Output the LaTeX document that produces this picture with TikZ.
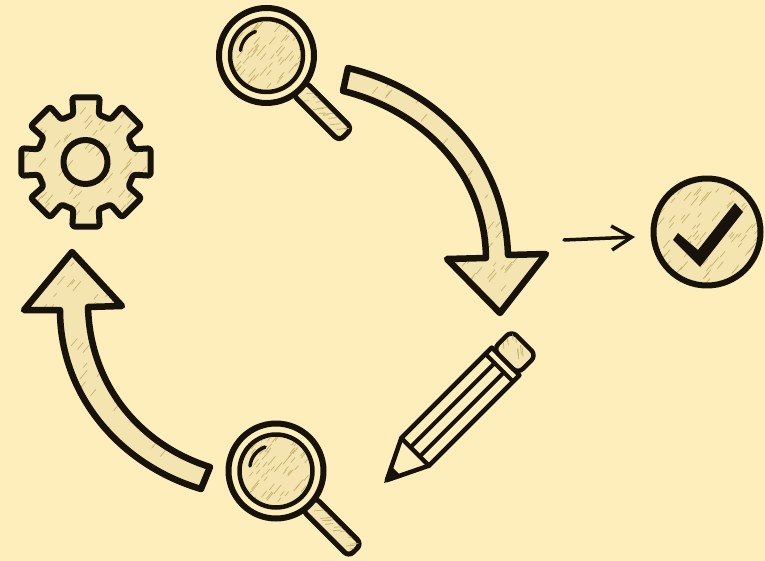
\documentclass[tikz,border=0pt]{standalone}
\usetikzlibrary{arrows.meta}
\definecolor{paper}{HTML}{FDEEBB}
\definecolor{tanfill}{HTML}{F4E4B0}
\definecolor{hatch}{HTML}{BFAB66}
\definecolor{ink}{HTML}{17130A}
\tikzset{
  inkline/.style={draw=ink,line width=#1,line join=round,line cap=round},
  inkline/.default=5pt,
  hatchline/.style={draw=hatch,line width=0.8pt,opacity=0.8},
}
% short slanted pencil strokes scattered over a box: centre x, y, half width, half height, count
\newcommand{\hatchbox}[5]{%
  \foreach \hi in {1,...,#5}{%
    \pgfmathsetmacro{\hx}{#1+(#3)*rand}%
    \pgfmathsetmacro{\hy}{#2+(#4)*rand}%
    \pgfmathsetmacro{\hl}{3+5*rnd}%
    \draw[hatchline] (\hx,\hy) -- ++(\hl,-1.2*\hl);
  }%
}
\newcommand{\gearpath}{(86,162) ++(-15:49)
  \foreach \a in {0,45,...,315}{
    -- ([shift={(86,162)}]\a-15:49) -- ([shift={(86,162)}]\a-12:66) -- ([shift={(86,162)}]\a+12:66) -- ([shift={(86,162)}]\a+15:49)
  } -- cycle}
\newcommand{\arrowA}{(348,68) .. controls (440,90) and (505,160) .. (508,255) -- (546,254) -- (500,313) -- (447,259) -- (486,258) .. controls (485,170) and (420,110) .. (343,91) -- cycle}
\newcommand{\arrowB}{(201,489) .. controls (120,465) and (60,395) .. (60,310) -- (24,310) -- (72,252) -- (122,306) -- (88,307) .. controls (90,385) and (140,445) .. (210,467) -- cycle}
\tikzset{
  magnifier/.pic={
    \begin{scope}[rotate=-45]
      \filldraw[inkline=5pt,fill=tanfill,rounded corners=6pt] (46,-9) rectangle (112,9);
      \clip (46,-7) rectangle (110,7);
      \hatchbox{80}{0}{28}{6}{14}
    \end{scope}
    \filldraw[inkline=6pt,fill=paper] (0,0) circle[radius=47.5];
    \filldraw[inkline=4.5pt,fill=tanfill] (0,0) circle[radius=36.5];
    \begin{scope}
      \clip (0,0) circle[radius=34];
      \hatchbox{0}{0}{34}{34}{65}
    \end{scope}
    \draw[inkline=3.5pt] (-26,-5) .. controls (-25,-14) and (-19,-21) .. (-11,-24);
  }
}
\begin{document}
\begin{tikzpicture}[x=1pt,y=-1pt]
  \useasboundingbox (0,0) rectangle (765,561);
  \fill[paper] (0,0) rectangle (765,561);
  \pgfmathsetseed{11}

  % gear
  \fill[tanfill] \gearpath;
  \begin{scope}
    \clip \gearpath;
    \hatchbox{86}{162}{62}{62}{85}
  \end{scope}
  \draw[inkline=6pt,rounded corners=2.5pt] \gearpath;
  \draw[inkline=6pt] (85.5,162) circle[radius=22];

  % magnifiers
  \pic (magtop) at (266.5,55.5) {magnifier};
  \pic (magbottom) at (276,471) {magnifier};

  % large arrow to the pencil
  \fill[tanfill] \arrowA;
  \begin{scope}
    \clip \arrowA;
    \hatchbox{480}{270}{34}{44}{32}
    \hatchbox{430}{135}{85}{70}{40}
  \end{scope}
  \draw[inkline=6.5pt] \arrowA;

  % large arrow to the gear
  \fill[tanfill] \arrowB;
  \begin{scope}
    \clip \arrowB;
    \hatchbox{72}{285}{45}{32}{20}
    \hatchbox{130}{410}{75}{80}{40}
  \end{scope}
  \draw[inkline=6.5pt] \arrowB;

  % pencil
  \begin{scope}[shift={(384,483)},rotate=45]
    \filldraw[inkline=4.5pt,fill=paper] (4,0) -- (44,-19.5) -- (172,-19.5) -- (172,19.5) -- (44,19.5) -- cycle;
    \filldraw[inkline=4.5pt,fill=tanfill,rounded corners=7pt] (172,-17.5) -- (198,-17.5) -- (198,17.5) -- (172,17.5) -- cycle;
    \begin{scope}
      \clip (174,-15) rectangle (196,15);
      \hatchbox{185}{0}{10}{13}{9}
    \end{scope}
    \draw[inkline=4.5pt] (44,-19.5) -- (44,19.5);
    \draw[inkline=4pt] (163,-19.5) -- (163,19.5);
    \draw[inkline=4pt] (47,-6.5) -- (163,-6.5);
    \draw[inkline=4pt] (47,6.5) -- (163,6.5);
    \fill[ink] (0,0) -- (17,-8.5) -- (17,8.5) -- cycle;
  \end{scope}

  % small arrow and check badge
  \coordinate (smallstart) at (564,240);
  \coordinate (smallend) at (635,237);
  \draw[draw=ink,line width=3.5pt,line cap=round,-{Straight Barb[length=20pt,width=24pt,line width=3.5pt]}] (smallstart) -- (smallend);

  \fill[tanfill] (707,232) circle[radius=53.5];
  \begin{scope}
    \clip (707,232) circle[radius=53.5];
    \hatchbox{707}{232}{52}{52}{85}
  \end{scope}
  \draw[inkline=6pt] (707,232) circle[radius=53.5];
  \fill[ink] (678,233) -- (673,240) -- (700,267) -- (743,212) -- (735,203) -- (698,250) -- cycle;
\end{tikzpicture}
\end{document}
